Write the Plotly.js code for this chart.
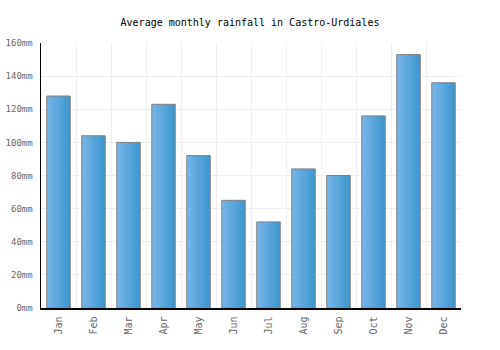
<!DOCTYPE html>
<html>
<head>
<meta charset="utf-8">
<script src="https://cdn.plot.ly/plotly-3.0.1.min.js"></script>
<style>html,body{margin:0;padding:0;background:#fff;}#chart{width:500px;height:350px;}</style>
</head>
<body>
<div id="chart"></div>
<script>
const months = ["Jan","Feb","Mar","Apr","May","Jun","Jul","Aug","Sep","Oct","Nov","Dec"];
const rainfall = [128, 104, 100, 123, 92, 65, 52, 84, 80, 116, 153, 136];
const yTicks = [0, 20, 40, 60, 80, 100, 120, 140, 160];
const yTickLabels = ["0mm", "20mm", "40mm", "60mm", "80mm", "100mm", "120mm", "140mm", "160mm"];

const font = "'DejaVu Sans Mono', 'Liberation Mono', monospace";

const trace = {
  type: "bar",
  x: months,
  y: rainfall,
  marker: { color: "#55a5dc", line: { color: "#808080", width: 1 } },
  hoverinfo: "none"
};

const layout = {
  width: 500, height: 350,
  margin: { l: 41, r: 39, t: 43, b: 42 },
  paper_bgcolor: "#fff", plot_bgcolor: "#fff",
  bargap: 0.33,
  showlegend: false,
  title: { text: "Average monthly rainfall in Castro-Urdiales", font: { family: font, size: 10, color: "#000" }, x: 0.5, xanchor: "center", y: 0.937, yanchor: "middle" },
  xaxis: {
    type: "category",
    tickson: "boundaries",
    showgrid: true, gridcolor: "#eeeeee", gridwidth: 1,
    showline: true, linecolor: "#000", linewidth: 1.5,
    ticks: "", tickangle: -90,
    ticklabelstandoff: 3,
    tickfont: { family: font, size: 10, color: "#666" },
    zeroline: false
  },
  yaxis: {
    range: [0, 160],
    tickmode: "array",
    tickvals: yTicks,
    ticktext: yTickLabels,
    showgrid: true, gridcolor: "#eeeeee", gridwidth: 1,
    showline: true, linecolor: "#000", linewidth: 1.5,
    ticks: "",
    ticklabelstandoff: 5,
    tickfont: { family: font, size: 9, color: "#666" },
    zeroline: false,
    fixedrange: true
  }
};

Plotly.newPlot("chart", [trace], layout, { staticPlot: true }).then(function (gd) {
  const svg = gd.querySelector("svg.main-svg");
  const ns = "http://www.w3.org/2000/svg";
  let defs = svg.querySelector("defs");
  if (!defs) { defs = document.createElementNS(ns, "defs"); svg.insertBefore(defs, svg.firstChild); }
  const grad = document.createElementNS(ns, "linearGradient");
  grad.setAttribute("id", "barGrad");
  grad.setAttribute("x1", "0"); grad.setAttribute("y1", "0");
  grad.setAttribute("x2", "1"); grad.setAttribute("y2", "0");
  [["0%", "#78b6ea"], ["100%", "#3a96cd"]].forEach(function (s) {
    const st = document.createElementNS(ns, "stop");
    st.setAttribute("offset", s[0]);
    st.setAttribute("stop-color", s[1]);
    grad.appendChild(st);
  });
  defs.appendChild(grad);
  gd.querySelectorAll(".barlayer .point path").forEach(function (p) {
    p.style.fill = "url(#barGrad)";
  });
});
</script>
</body>
</html>
